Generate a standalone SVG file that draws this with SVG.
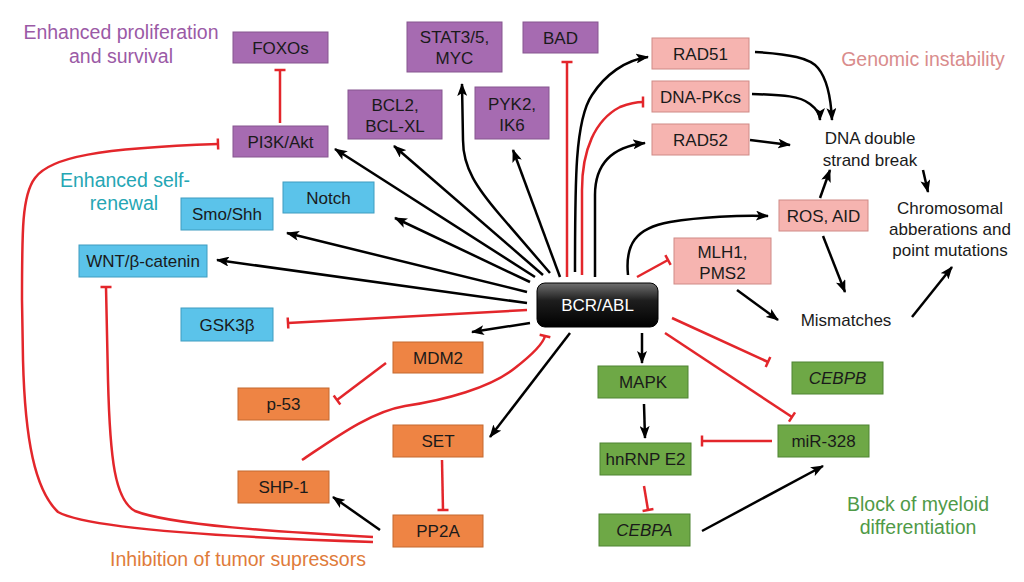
<svg xmlns="http://www.w3.org/2000/svg" width="1024" height="582" viewBox="0 0 1024 582">
<defs>
<linearGradient id="bcrGrad" x1="0" y1="0" x2="0" y2="1">
<stop offset="0" stop-color="#707070"/>
<stop offset="0.4" stop-color="#1e1e1e"/>
<stop offset="1" stop-color="#000"/>
</linearGradient>
<marker id="arr" markerUnits="userSpaceOnUse" markerWidth="13" markerHeight="10" viewBox="0 0 13 10" refX="12" refY="5" orient="auto"><path d="M0,0 L13,5 L0,10 L3,5 Z" fill="#000"/></marker>
<marker id="bar" markerUnits="userSpaceOnUse" markerWidth="4" markerHeight="14" viewBox="-2 -7 4 14" refX="0" refY="0" orient="auto"><line x1="0" y1="-5.5" x2="0" y2="5.5" stroke="#e3262b" stroke-width="2.5"/></marker>
</defs>
<style>
.t{font-family:"Liberation Sans",Arial,sans-serif;font-size:17px;fill:#1a1a1a;text-anchor:middle}
.i{font-style:italic}
.lbl{font-family:"Liberation Sans",Arial,sans-serif;font-size:19.5px;text-anchor:middle}
.plain{font-family:"Liberation Sans",Arial,sans-serif;font-size:17px;fill:#1a1a1a;text-anchor:middle}
.pur rect{fill:#a66bb1;stroke:#86568f;stroke-width:1}
.blu rect{fill:#5bc3ea;stroke:#3f9cc0;stroke-width:1}
.pnk rect{fill:#f6b4b0;stroke:#cf8a86;stroke-width:1}
.org rect{fill:#ee8444;stroke:#c4692f;stroke-width:1}
.grn rect{fill:#6ea846;stroke:#4f8433;stroke-width:1}
.a{fill:none;stroke:#000;stroke-width:2.5;marker-end:url(#arr)}
.r{fill:none;stroke:#e3262b;stroke-width:2.5;marker-end:url(#bar)}
</style>
<rect width="1024" height="582" fill="#fff"/>

<g id="labels">
<text class="lbl" x="121" y="39" fill="#9b5aa6">Enhanced proliferation</text>
<text class="lbl" x="121" y="63" fill="#9b5aa6">and survival</text>
<text class="lbl" x="125" y="187" fill="#25a6b4">Enhanced self-</text>
<text class="lbl" x="124" y="210" fill="#25a6b4">renewal</text>
<text class="lbl" x="923" y="66" fill="#d98c8c">Genomic instability</text>
<text class="lbl" x="238" y="566" fill="#e07b3a">Inhibition of tumor supressors</text>
<text class="lbl" x="918" y="511" fill="#4f9a47">Block of myeloid</text>
<text class="lbl" x="918" y="534" fill="#4f9a47">differentiation</text>
</g>

<g id="connectors">
<path class="a" d="M530,282 L395,218"/>
<path class="a" d="M535,277 L335,149"/>
<path class="a" d="M543,275 L394,146"/>
<path class="a" d="M550,273 L500,215 C477,188 463,168 463,140 L462,84"/>
<path class="a" d="M560,277 L513,150"/>
<path class="a" d="M527,292 L287,233"/>
<path class="a" d="M527,303 L217,260"/>
<path class="a" d="M530,323 L472,332"/>
<path class="a" d="M570,333 L490,437"/>
<path class="a" d="M642,333 L642,363"/>
<path class="a" d="M575,272 C575,180 575,120 592,95 C605,75 625,60 648,57"/>
<path class="a" d="M595,277 L595,195 C595,165 610,147 645,143"/>
<path class="a" d="M628,275 C625,245 635,228 670,222 C700,217 740,215 768,216"/>
<path class="a" d="M755,52 C790,54 810,58 818,68 C828,80 831,100 832,120"/>
<path class="a" d="M752,94 C785,95 800,96 810,104 C818,110 820,115 820,120"/>
<path class="a" d="M750,140 L790,145"/>
<path class="a" d="M820,198 L830,170"/>
<path class="a" d="M923,170 L928,192"/>
<path class="a" d="M823,236 L845,292"/>
<path class="a" d="M737,290 L778,320"/>
<path class="a" d="M912,317 L952,267"/>
<path class="a" d="M644,404 L645,438"/>
<path class="a" d="M702,531 L823,466"/>
<path class="a" d="M380,530 L333,497"/>

<path class="r" d="M280,123 L280,70"/>
<path class="r" d="M567,277 L567,62"/>
<path class="r" d="M582,275 L582,190 C582,150 595,120 620,107 C628,104 636,102 643,102"/>
<path class="r" d="M637,277 L668,260"/>
<path class="r" d="M527,310 L288,323"/>
<path class="r" d="M373,542 C250,538 90,530 58,512 C35,490 25,440 23,360 L22,300 C22,230 22,195 35,178 C50,157 100,148 218,144"/>
<path class="r" d="M373,537 C280,532 170,525 135,511 C115,500 110,460 108,380 L106,287"/>
<path class="r" d="M386,363 L337,400"/>
<path class="r" d="M302,460 C335,438 370,412 405,406 C445,400 490,388 515,368 C533,354 543,344 545,336"/>
<path class="r" d="M442,460 L443,510"/>
<path class="r" d="M672,318 L768,362"/>
<path class="r" d="M665,333 L792,417"/>
<path class="r" d="M772,441 L702,441"/>
<path class="r" d="M644,486 L648,510"/>
</g>

<g id="FOXOs" class="pur"><rect x="233" y="32" width="95" height="31"/><text class="t" x="280.5" y="53.5">FOXOs</text></g>
<g id="PI3K" class="pur"><rect x="233" y="126" width="95" height="31"/><text class="t" x="280.5" y="147.5">PI3K/Akt</text></g>
<g id="STAT" class="pur"><rect x="407" y="22" width="95" height="50"/><text class="t" x="454.5" y="43">STAT3/5,</text><text class="t" x="454.5" y="64">MYC</text></g>
<g id="BAD" class="pur"><rect x="523" y="22" width="75" height="31"/><text class="t" x="560.5" y="43.5">BAD</text></g>
<g id="BCL2" class="pur"><rect x="348" y="90" width="94" height="49"/><text class="t" x="395" y="111">BCL2,</text><text class="t" x="395" y="132">BCL-XL</text></g>
<g id="PYK2" class="pur"><rect x="475" y="87" width="74" height="52"/><text class="t" x="512" y="110">PYK2,</text><text class="t" x="512" y="131">IK6</text></g>

<g id="Notch" class="blu"><rect x="283" y="182" width="91" height="31"/><text class="t" x="328.5" y="203.5">Notch</text></g>
<g id="Smo" class="blu"><rect x="181" y="198" width="92" height="32"/><text class="t" x="227" y="220">Smo/Shh</text></g>
<g id="WNT" class="blu"><rect x="79" y="245" width="128" height="32"/><text class="t" x="143" y="267">WNT/β-catenin</text></g>
<g id="GSK3b" class="blu"><rect x="181" y="308" width="92" height="33"/><text class="t" x="227" y="330.5">GSK3β</text></g>

<g id="RAD51" class="pnk"><rect x="652" y="38" width="97" height="31"/><text class="t" x="700.5" y="59.5">RAD51</text></g>
<g id="DNAPK" class="pnk"><rect x="652" y="81" width="97" height="31"/><text class="t" x="700.5" y="102.5">DNA-PKcs</text></g>
<g id="RAD52" class="pnk"><rect x="652" y="124" width="97" height="31"/><text class="t" x="700.5" y="145.5">RAD52</text></g>
<g id="ROS" class="pnk"><rect x="779" y="200" width="89" height="31"/><text class="t" x="823.5" y="221.5">ROS, AID</text></g>
<g id="MLH1" class="pnk"><rect x="674" y="238" width="97" height="46"/><text class="t" x="722.5" y="258">MLH1,</text><text class="t" x="722.5" y="279">PMS2</text></g>

<g id="DSB"><text class="plain" x="870" y="144">DNA double</text><text class="plain" x="870" y="166">strand break</text></g>
<g id="Chrom"><text class="plain" x="950" y="214">Chromosomal</text><text class="plain" x="950" y="235">abberations and</text><text class="plain" x="950" y="256">point mutations</text></g>
<g id="Mismatches"><text class="plain" x="846" y="326">Mismatches</text></g>

<g id="BCRABL"><rect x="537" y="283" width="121" height="44" rx="8" fill="url(#bcrGrad)" stroke="#000" stroke-width="1"/><text class="t" x="597.5" y="311" style="fill:#fff">BCR/ABL</text></g>

<g id="MDM2" class="org"><rect x="393" y="342" width="90" height="31"/><text class="t" x="438" y="363.5">MDM2</text></g>
<g id="p53" class="org"><rect x="238" y="388" width="91" height="32"/><text class="t" x="283.5" y="410">p-53</text></g>
<g id="SET" class="org"><rect x="393" y="425" width="90" height="32"/><text class="t" x="438" y="447">SET</text></g>
<g id="SHP1" class="org"><rect x="238" y="471" width="91" height="32"/><text class="t" x="283.5" y="493">SHP-1</text></g>
<g id="PP2A" class="org"><rect x="393" y="515" width="90" height="32"/><text class="t" x="438" y="537">PP2A</text></g>

<g id="MAPK" class="grn"><rect x="598" y="366" width="90" height="32"/><text class="t" x="643" y="388">MAPK</text></g>
<g id="hnRNP" class="grn"><rect x="600" y="443" width="91" height="32"/><text class="t" x="645.5" y="465">hnRNP E2</text></g>
<g id="CEBPA" class="grn"><rect x="599" y="514" width="91" height="32"/><text class="t i" x="644.5" y="536">CEBPA</text></g>
<g id="CEBPB" class="grn"><rect x="792" y="362" width="91" height="32"/><text class="t i" x="837.5" y="384">CEBPB</text></g>
<g id="miR328" class="grn"><rect x="778" y="425" width="91" height="32"/><text class="t" x="823.5" y="447">miR-328</text></g>
</svg>
